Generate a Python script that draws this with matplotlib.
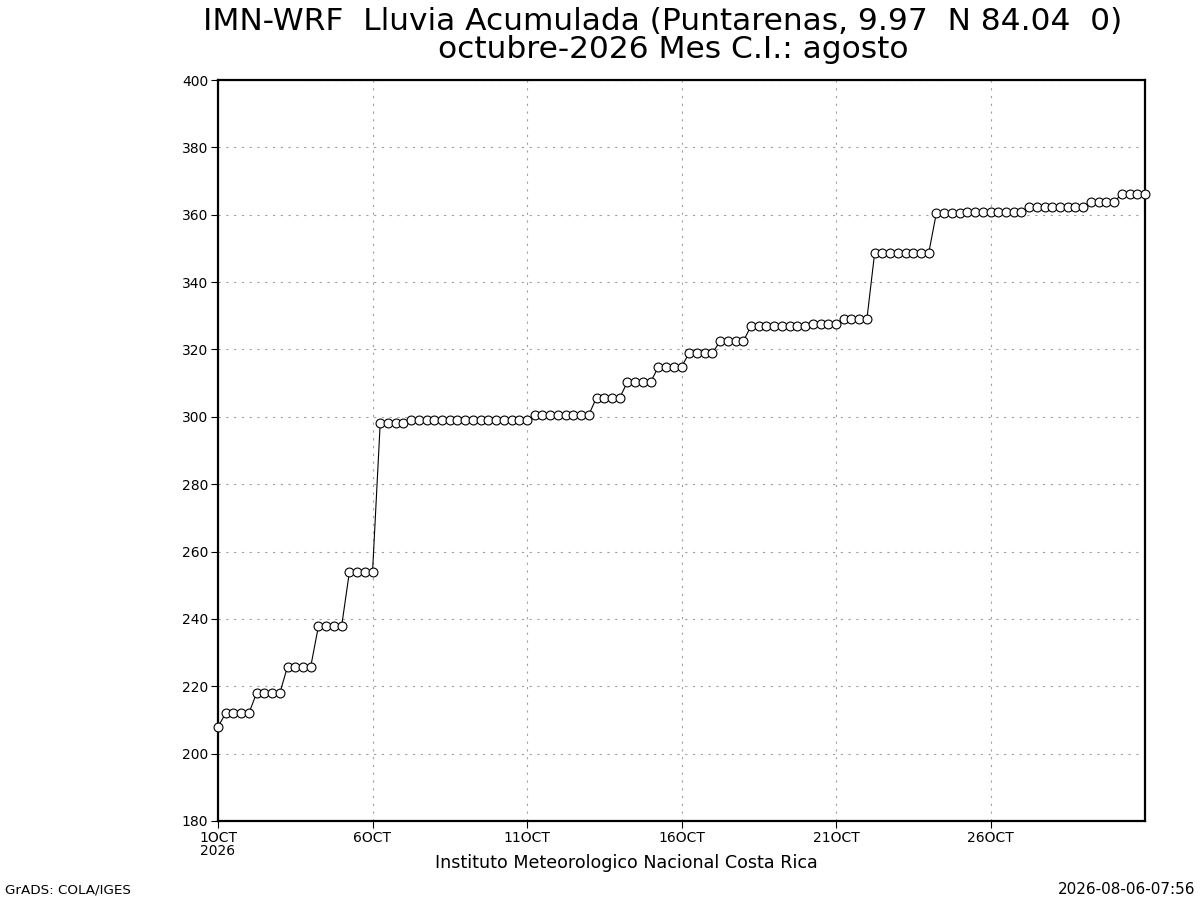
import matplotlib
matplotlib.use("Agg")
import matplotlib.pyplot as plt

# accumulated rain (mm), 6-hourly from 1 OCT 00Z to 31 OCT 00Z
rain = [
    208.0,
    212.0, 212.0, 212.0, 212.0,
    218.0, 218.0, 218.0, 218.0,
    225.8, 225.8, 225.8, 225.8,
    237.8, 237.8, 237.8, 237.8,
    253.8, 253.8, 253.8, 253.8,
    298.2, 298.2, 298.2, 298.2,
    299.0, 299.0, 299.0, 299.0, 299.0, 299.0, 299.0, 299.0,
    299.0, 299.0, 299.0, 299.0, 299.0, 299.0, 299.0, 299.0,
    300.5, 300.5, 300.5, 300.5, 300.6, 300.6, 300.6, 300.6,
    305.7, 305.7, 305.7, 305.7,
    310.3, 310.3, 310.3, 310.3,
    314.8, 314.8, 314.8, 314.8,
    319.0, 319.0, 319.0, 319.0,
    322.4, 322.4, 322.4, 322.4,
    327.0, 327.0, 327.0, 327.0, 327.0, 327.0, 327.0, 327.0,
    327.5, 327.5, 327.5, 327.5,
    329.0, 329.0, 329.0, 329.0,
    348.6, 348.6, 348.6, 348.6, 348.6, 348.6, 348.6, 348.6,
    360.6, 360.6, 360.6, 360.6, 360.7, 360.7, 360.7, 360.7,
    360.8, 360.8, 360.8, 360.8,
    362.2, 362.2, 362.2, 362.2, 362.3, 362.3, 362.3, 362.3,
    363.7, 363.7, 363.7, 363.7,
    366.3, 366.3, 366.3, 366.3,
]
days = [1 + i / 4 for i in range(len(rain))]

xticks = [1, 6, 11, 16, 21, 26]
xlabels = ["1OCT\n2026", "6OCT", "11OCT", "16OCT", "21OCT", "26OCT"]
yticks = list(range(180, 401, 20))

title1 = "IMN-WRF  Lluvia Acumulada (Puntarenas, 9.97  N 84.04  0)"
title2 = "octubre-2026 Mes C.I.: agosto"

fig = plt.figure(figsize=(12, 9), dpi=100)
ax = fig.add_axes([218 / 1200, 79 / 900, 927 / 1200, 741 / 900])

ax.plot(days, rain, color="black", lw=0.8, marker="o", markersize=6.4,
        markerfacecolor="white", markeredgecolor="black", markeredgewidth=0.8,
        clip_on=False, zorder=3)

ax.set_xlim(1, 31)
ax.set_ylim(180, 400)
ax.set_xticks(xticks)
ax.set_xticklabels(xlabels, fontsize=10, linespacing=0.9)
ax.set_yticks(yticks)
ax.set_yticklabels([str(v) for v in yticks], fontsize=10)
ax.tick_params(direction="out", length=5, width=0.8, pad=2)

ax.grid(True, color="#a0a0a0", linestyle=(0, (2, 5)), linewidth=0.8)
for s in ax.spines.values():
    s.set_linewidth(1.6)

fig.text(663 / 1200, 1 - 21 / 900, title1, ha="center", va="center", fontsize=22.5)
fig.text(673 / 1200, 1 - 50 / 900, title2, ha="center", va="center", fontsize=22.5)
fig.text(626 / 1200, 1 - 863 / 900, "Instituto Meteorologico Nacional Costa Rica",
         ha="center", va="center", fontsize=12.6)
fig.text(5 / 1200, 1 - 890 / 900, "GrADS: COLA/IGES", ha="left", va="center", fontsize=9.7)
fig.text(1195 / 1200, 1 - 890 / 900, "2026-08-06-07:56", ha="right", va="center", fontsize=11)

fig.savefig("out.png", dpi=100)
